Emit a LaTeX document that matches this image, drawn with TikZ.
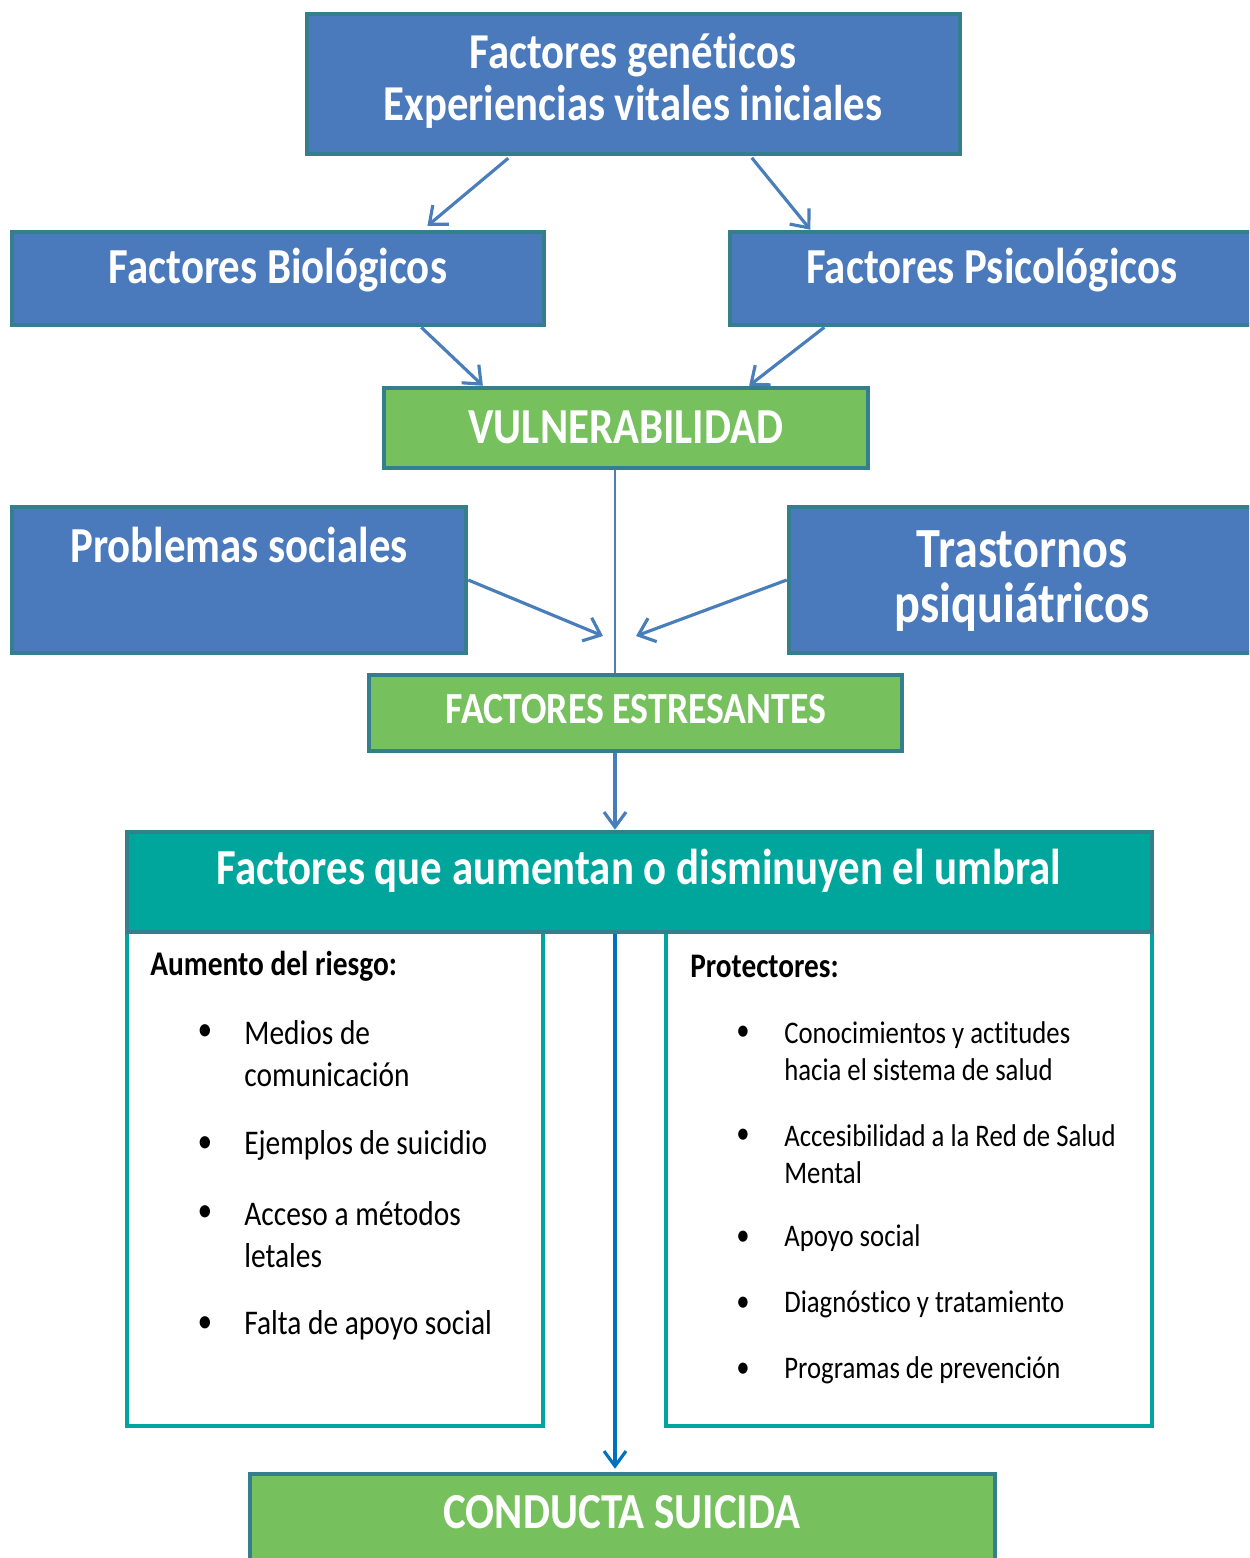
\documentclass[tikz,border=0pt]{standalone}
\usepackage{fontspec}
\setmainfont[FakeStretch=0.85, Ligatures=NoCommon]{Carlito}
\usetikzlibrary{arrows.meta,calc}

\definecolor{boxblue}{RGB}{74,121,188}
\definecolor{boxedge}{RGB}{52,126,142}
\definecolor{boxgreen}{RGB}{118,192,94}
\definecolor{headteal}{RGB}{0,166,156}
\definecolor{linkblue}{RGB}{74,126,187}
\definecolor{downblue}{RGB}{0,112,192}

\tikzset{
  bluebox/.style={draw=boxedge, fill=boxblue, line width=2.6pt, inner sep=0pt},
  greenbox/.style={draw=boxedge, fill=boxgreen, line width=2.6pt, inner sep=0pt},
  listbox/.style={draw=headteal, fill=white, line width=2.3pt, inner sep=0pt},
  boxtext/.style={text=white, align=center, inner sep=0pt},
  itemtext/.style={anchor=west, align=left, inner sep=0pt},
  link/.style={draw=linkblue, line width=1.8pt, -{Straight Barb[length=0.3cm,width=0.5cm]}},
}

\begin{document}
\begin{tikzpicture}[x=0.02cm, y=-0.02cm]
	\clip (0,0) rectangle (1249,1558);
	\coordinate (axis) at (615,0);
	% boxes
	\node[bluebox, minimum width=13.06cm, minimum height=2.8cm] (gen) at (633.5,84) {};
	\node[bluebox, minimum width=10.64cm, minimum height=1.86cm] (bio) at (278,278.5) {};
	\node[bluebox, minimum width=10.64cm, minimum height=1.86cm] (psy) at (996,278.5) {};
	\node[greenbox, minimum width=9.68cm, minimum height=1.6cm] (vul) at (626,428) {};
	\node[bluebox, minimum width=9.08cm, minimum height=2.92cm] (soc) at (239,580) {};
	\node[bluebox, minimum width=9.46cm, minimum height=2.92cm] (tra) at (1025.5,580) {};
	\node[greenbox, minimum width=10.66cm, minimum height=1.52cm] (est) at (635.5,713) {};
	\node[listbox, minimum width=8.32cm, minimum height=9.88cm] (lft) at (335,1179) {};
	\node[listbox, minimum width=9.72cm, minimum height=9.88cm] (rgt) at (909,1179) {};
	\node[draw=boxedge, fill=headteal, line width=2.6pt, inner sep=0pt, minimum width=20.5cm, minimum height=2cm] (hdr) at (639.5,882) {};
	\node[greenbox, minimum width=14.9cm, minimum height=2.12cm] (sui) at (622.5,1527) {};

	% box texts
	\node[boxtext, font=\bfseries\fontsize{28.6}{29.5}\selectfont] (gen-t) at (633,80.5) {Factores genéticos\\Experiencias vitales iniciales};
	\node[boxtext, font=\bfseries\fontsize{28.7}{30}\selectfont] (bio-t) at (278,270) {Factores Biológicos};
	\node[boxtext, font=\bfseries\fontsize{28.7}{30}\selectfont] (psy-t) at (992,270) {Factores Psicológicos};
	\node[boxtext, font=\bfseries\fontsize{28.7}{30}\selectfont] (vul-t) at (626,427) {VULNERABILIDAD};
	\node[boxtext, font=\bfseries\fontsize{28.7}{30}\selectfont] (soc-t) at (239,545) {Problemas sociales};
	\node[boxtext, font=\bfseries\fontsize{32.3}{31.7}\selectfont] (tra-t) at (1022,581) {Trastornos\\psiquiátricos};
	\node[boxtext, font=\bfseries\fontsize{25.3}{26}\selectfont] (est-t) at (636,709) {FACTORES ESTRESANTES};
	\node[boxtext, font=\bfseries\fontsize{28.7}{30}\selectfont] (hdr-t) at (639,871) {Factores que aumentan o disminuyen el umbral};
	\node[boxtext, font=\bfseries\fontsize{28.7}{30}\selectfont] (sui-t) at (622,1512) {CONDUCTA SUICIDA};

	% left list
	\node[itemtext, font=\bfseries\fontsize{19.7}{24}\selectfont] (lft-h) at (150,966) {Aumento del riesgo:};
	\node[font=\fontsize{19.7}{24}\selectfont] (lb1) at (205,1033) {•};
	\node[itemtext, font=\fontsize{19.7}{24}\selectfont] (li1) at (244,1054) {Medios de\\comunicación};
	\node[font=\fontsize{19.7}{24}\selectfont] (lb2) at (205,1145) {•};
	\node[itemtext, font=\fontsize{19.7}{24}\selectfont] (li2) at (244,1145) {Ejemplos de suicidio};
	\node[font=\fontsize{19.7}{24}\selectfont] (lb3) at (205,1214) {•};
	\node[itemtext, font=\fontsize{19.7}{24}\selectfont] (li3) at (244,1235) {Acceso a métodos\\letales};
	\node[font=\fontsize{19.7}{24}\selectfont] (lb4) at (205,1325) {•};
	\node[itemtext, font=\fontsize{19.7}{24}\selectfont] (li4) at (244,1325) {Falta de apoyo social};

	% right list
	\node[itemtext, font=\bfseries\fontsize{19.6}{24}\selectfont] (rgt-h) at (690,966) {Protectores:};
	\node[font=\fontsize{17.9}{21}\selectfont] (rb1) at (743,1033) {•};
	\node[itemtext, font=\fontsize{17.9}{21}\selectfont] (ri1) at (784,1051.5) {Conocimientos y actitudes\\hacia el sistema de salud};
	\node[font=\fontsize{17.9}{21}\selectfont] (rb2) at (743,1136) {•};
	\node[itemtext, font=\fontsize{17.9}{21}\selectfont] (ri2) at (784,1154.5) {Accesibilidad a la Red de Salud\\Mental};
	\node[font=\fontsize{17.9}{21}\selectfont] (rb3) at (743,1238) {•};
	\node[itemtext, font=\fontsize{17.9}{21}\selectfont] (ri3) at (784,1238) {Apoyo social};
	\node[font=\fontsize{17.9}{21}\selectfont] (rb4) at (743,1304) {•};
	\node[itemtext, font=\fontsize{17.9}{21}\selectfont] (ri4) at (784,1304) {Diagnóstico y tratamiento};
	\node[font=\fontsize{17.9}{21}\selectfont] (rb5) at (743,1370) {•};
	\node[itemtext, font=\fontsize{17.9}{21}\selectfont] (ri5) at (784,1370) {Programas de prevención};

	% arrows
	\coordinate (socend) at (603,636);
	\coordinate (traend) at (636,636);
	\draw[link, shorten <=0.06cm, shorten >=0.12cm] ($(gen.south west)!0.313!(gen.south east)$) -- ($(bio.north west)!0.77!(bio.north east)$);
	\draw[link, shorten <=0.04cm] ($(gen.south west)!0.678!(gen.south east)$) -- ($(psy.north west)!0.154!(psy.north east)$);
	\draw[link] ($(bio.south west)!0.767!(bio.south east)$) -- ($(vul.north west)!0.207!(vul.north east)$);
	\draw[link] ($(psy.south west)!0.18!(psy.south east)$) -- ($(vul.north west)!0.752!(vul.north east)$);
	\draw[link] (soc.east) -- (socend);
	\draw[link] (tra.west) -- (traend);
	\draw[draw=linkblue, line width=1.2pt] (vul.south -| axis) -- (est.north -| axis);
	\draw[link, -{Straight Barb[length=0.3cm,width=0.44cm]}] (est.south -| axis) -- (hdr.north -| axis);
	\draw[link, draw=downblue, -{Straight Barb[length=0.3cm,width=0.44cm]}, shorten >=0.06cm] (hdr.south -| axis) -- (sui.north -| axis);
\end{tikzpicture}
\end{document}
